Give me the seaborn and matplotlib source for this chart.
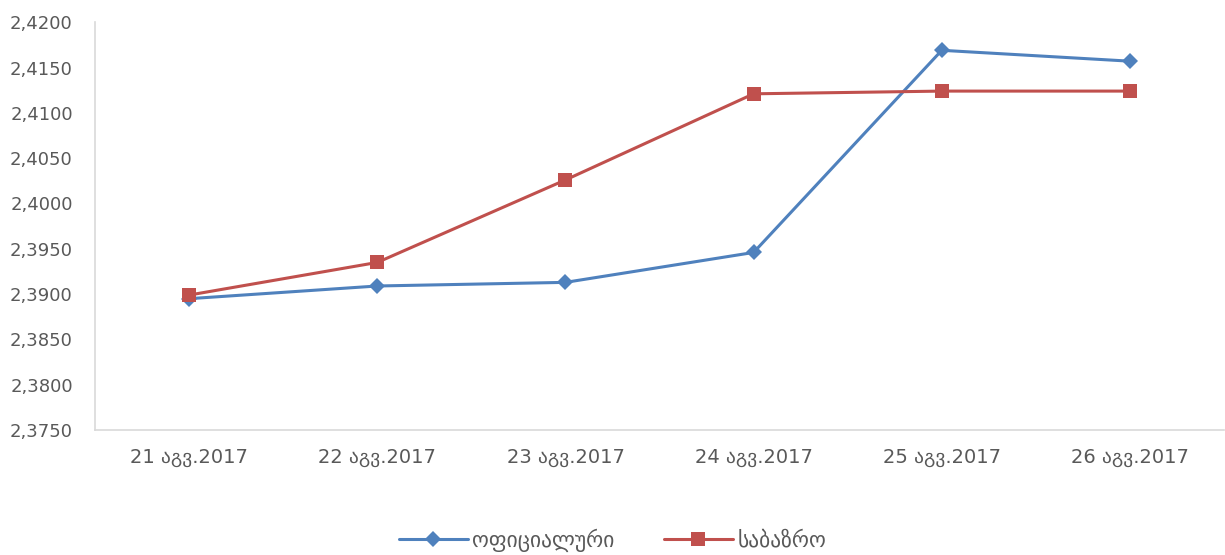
import numpy as np
import pandas as pd
import matplotlib
matplotlib.use("Agg")
import matplotlib.pyplot as plt
from matplotlib.ticker import FuncFormatter, MultipleLocator
import seaborn as sns

# ── Data ──────────────────────────────────────────────────────────────────────
dates = ["21 აგვ.2017", "22 აგვ.2017", "23 აგვ.2017",
         "24 აგვ.2017", "25 აგვ.2017", "26 აგვ.2017"]
official = [2.3895, 2.3909, 2.3913, 2.3946, 2.4169, 2.4157]
market = [2.3899, 2.3935, 2.4026, 2.4121, 2.4124, 2.4124]
series_names = ["ოფიციალური", "საბაზრო"]

COLORS = {"ოფიციალური": "#4F81BD", "საბაზრო": "#C0504D"}
MARKERS = {"ოფიციალური": "D", "საბაზრო": "s"}

df = pd.concat([
    pd.DataFrame({"date": dates, "rate": official, "series": series_names[0]}),
    pd.DataFrame({"date": dates, "rate": market, "series": series_names[1]}),
], ignore_index=True)

sns.set_theme(style="white")
plt.rcParams["font.family"] = ["DejaVu Sans"]

fig = plt.figure(figsize=(12.25, 5.55), dpi=100)
ax = fig.add_axes([0.0776, 0.225, 0.9216, 0.735])

sns.lineplot(data=df, x="date", y="rate", hue="series", style="series",
             palette=COLORS, markers=MARKERS, dashes=False, sort=False,
             linewidth=2.2, markersize=10.5, markeredgewidth=0, ax=ax)

# diamonds a bit smaller than squares
for line in ax.lines:
    if line.get_marker() == "D":
        line.set_markersize(8)

ax.set_xlim(-0.5, len(dates) - 0.5)
ax.set_ylim(2.375, 2.42)
ax.yaxis.set_major_locator(MultipleLocator(0.005))
ax.yaxis.set_major_formatter(FuncFormatter(lambda v, _: f"{v:.4f}".replace(".", ",")))
ax.set_xlabel("")
ax.set_ylabel("")

for side in ["top", "right"]:
    ax.spines[side].set_visible(False)
for side in ["left", "bottom"]:
    ax.spines[side].set_color("#D9D9D9")
    ax.spines[side].set_linewidth(1.2)

ax.tick_params(axis="y", length=0, pad=16, labelsize=13, labelcolor="#595959")
ax.tick_params(axis="x", length=0, pad=13, labelsize=14, labelcolor="#595959")

handles, labels = ax.get_legend_handles_labels()
ax.get_legend().remove()
for h in handles:
    if h.get_marker() == "D":
        h.set_markersize(8)
fig.legend(handles, labels, loc="center", bbox_to_anchor=(0.5, 0.027), ncol=2,
           frameon=False, fontsize=15.5, handlelength=3.2, handletextpad=0.2,
           columnspacing=2.3, labelcolor="#595959")

fig.savefig("out.png", dpi=100)
